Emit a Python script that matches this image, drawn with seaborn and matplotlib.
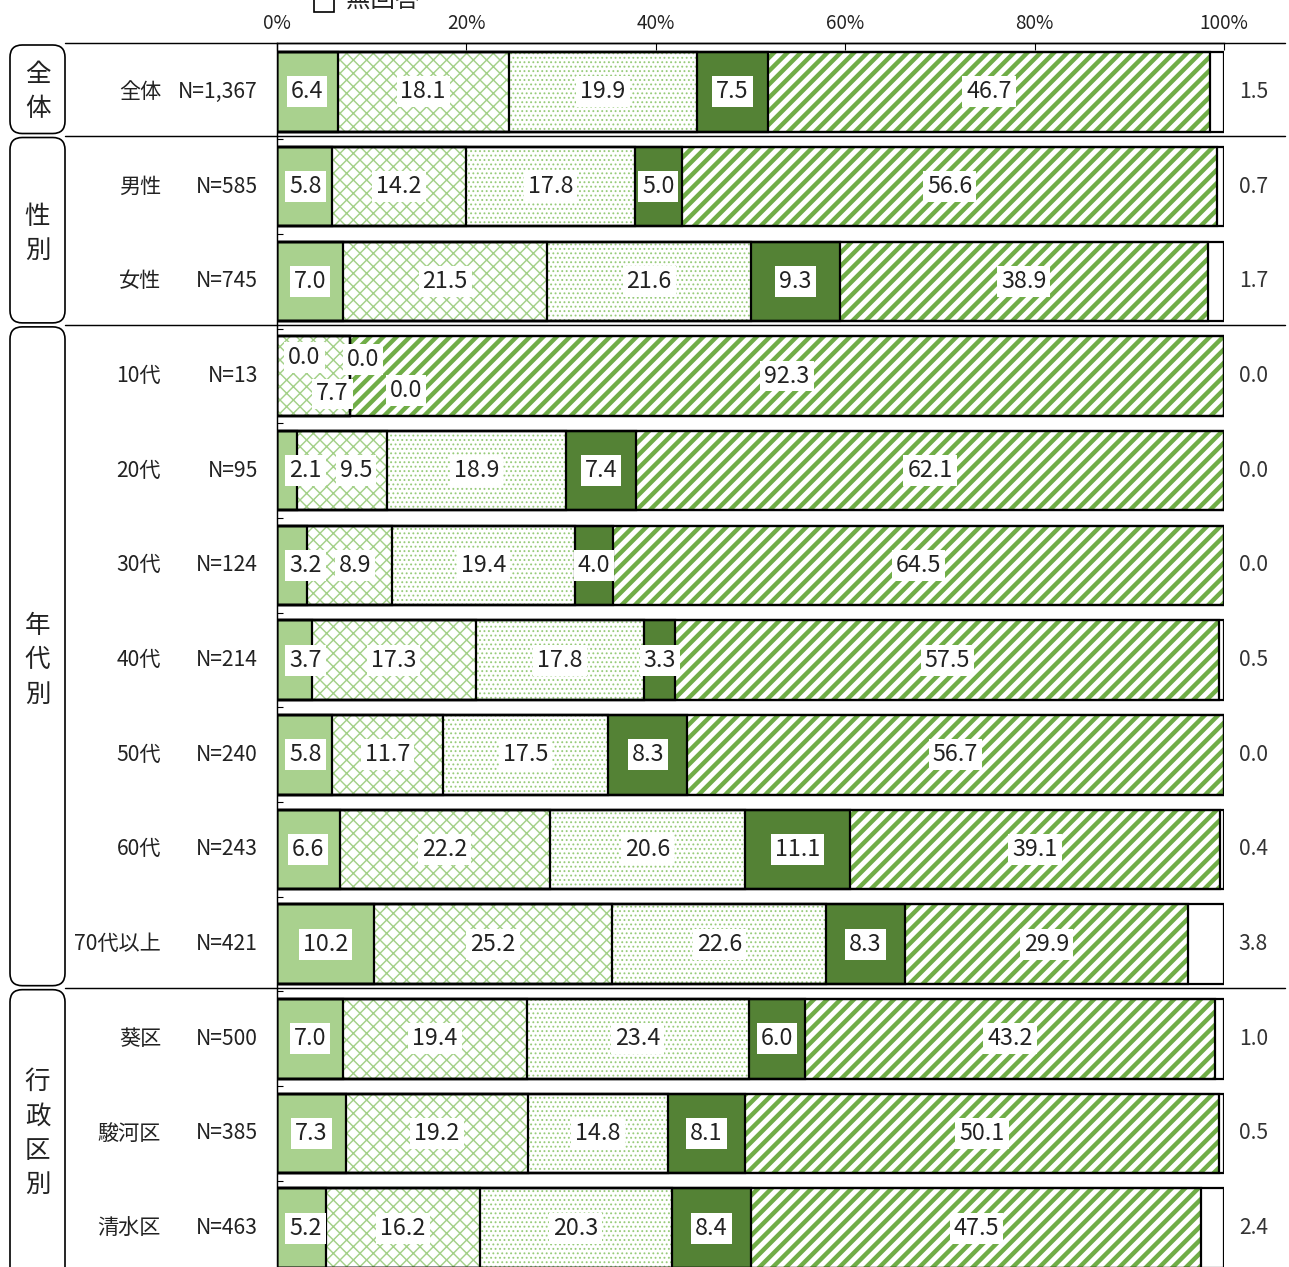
import matplotlib
matplotlib.use("Agg")
import matplotlib.pyplot as plt
import matplotlib.transforms as mtrans
from matplotlib.patches import FancyBboxPatch, Rectangle
import numpy as np
import seaborn as sns

sns.set_theme(style="white")
plt.rcParams['font.family'] = ['Noto Sans CJK JP', 'DejaVu Sans']

W, H, DPI = 1289, 1267, 80

# ---- data ----
categories = ["全体", "男性", "女性", "10代", "20代", "30代", "40代", "50代",
              "60代", "70代以上", "葵区", "駿河区", "清水区"]
sample_n = ["N=1,367", "N=585", "N=745", "N=13", "N=95", "N=124", "N=214",
            "N=240", "N=243", "N=421", "N=500", "N=385", "N=463"]
groups = ["全体", "性別", "年代別", "行政区別"]
group_rows = [(0, 0), (1, 2), (3, 9), (10, 12)]

series_1 = [6.4, 5.8, 7.0, 0.0, 2.1, 3.2, 3.7, 5.8, 6.6, 10.2, 7.0, 7.3, 5.2]
series_2 = [18.1, 14.2, 21.5, 7.7, 9.5, 8.9, 17.3, 11.7, 22.2, 25.2, 19.4, 19.2, 16.2]
series_3 = [19.9, 17.8, 21.6, 0.0, 18.9, 19.4, 17.8, 17.5, 20.6, 22.6, 23.4, 14.8, 20.3]
series_4 = [7.5, 5.0, 9.3, 0.0, 7.4, 4.0, 3.3, 8.3, 11.1, 8.3, 6.0, 8.1, 8.4]
series_5 = [46.7, 56.6, 38.9, 92.3, 62.1, 64.5, 57.5, 56.7, 39.1, 29.9, 43.2, 50.1, 47.5]
no_answer = [1.5, 0.7, 1.7, 0.0, 0.0, 0.0, 0.5, 0.0, 0.4, 3.8, 1.0, 0.5, 2.4]
legend_label = "無回答"

xticks = [0, 20, 40, 60, 80, 100]
xtick_labels = ["0%", "20%", "40%", "60%", "80%", "100%"]

# ---- styles ----
# face colour, hatch, hatch colour, hatch linewidth
styles = [
    ("#A9D18E", None, "#A9D18E", 1.0),
    ("white", "xx", "#A3D088", 1.3),
    ("white", "...", "#98CB7B", 1.0),
    ("#548235", None, "#548235", 1.0),
    ("white", "//", "#70AD47", 4.0),
    ("white", None, "white", 1.0),
]
# label nudges (data units) for crowded labels
label_nudge = {(3, 0): (2.9, -0.20), (3, 1): (2.0, 0.19),
               (3, 2): (1.4, -0.17), (3, 3): (5.9, 0.15),
               (4, 1): (1.5, 0.0), (5, 1): (0.6, 0.0)}

values = np.array([series_1, series_2, series_3, series_4, series_5, no_answer]).T
cum = np.cumsum(values, axis=1)
cum = cum / cum[:, -1:] * 100.0
left = cum - values / values.sum(axis=1, keepdims=True) * 100.0

fig = plt.figure(figsize=(W / DPI, H / DPI), dpi=DPI)
ax_top_px = 43
ax = fig.add_axes([277 / W, 0, (1224 - 277) / W, (H - ax_top_px) / H])

bar_w = 0.84
for k in reversed(range(6)):
    face, hatch, hcol, hlw = styles[k]
    plt.rcParams['hatch.linewidth'] = hlw
    n0 = len(ax.patches)
    sns.barplot(x=cum[:, k], y=categories, orient="y", color=face, hatch=hatch,
                edgecolor=hcol, linewidth=0, width=bar_w, saturation=1,
                errorbar=None, ax=ax)
    for p in ax.patches[n0:]:
        if hasattr(p, "set_hatch_linewidth"):
            p.set_hatch_linewidth(hlw)

for k in range(6):
    sns.barplot(x=cum[:, k], y=categories, orient="y", fill=False, color="black",
                linewidth=2.0, width=bar_w, errorbar=None, ax=ax)

y_top = -0.517
y_bot = 12.41
ax.set_xlim(0, 100)
ax.set_ylim(y_bot, y_top)
ax.set_xlabel("")
ax.set_ylabel("")

for s in ["right", "bottom"]:
    ax.spines[s].set_visible(False)
for s in ["top", "left"]:
    ax.spines[s].set_color("black")
    ax.spines[s].set_linewidth(1.3)

ax.xaxis.tick_top()
ax.set_xticks(xticks)
ax.set_xticklabels(xtick_labels)
ax.tick_params(axis="x", top=True, bottom=False, direction="in", length=6,
               width=1, color="black", labelsize=17, labelcolor="#222222", pad=8)
ax.set_yticks(np.arange(0.5, len(categories) - 0.5, 1))
ax.set_yticklabels([])
ax.tick_params(axis="y", left=True, direction="in", length=5, width=1, color="black")

# ---- value labels ----
lab_font = 21
for i in range(len(categories)):
    for k in range(5):
        mid = (left[i, k] + cum[i, k]) / 2
        if k == 0:
            mid = max(mid, 3.0)
        cx, cy = mid, i
        if (i, k) in label_nudge:
            dx, dy = label_nudge[(i, k)]
            cx, cy = mid + dx, i + dy
            if (i, k) == (3, 0):
                cx = 2.9
        ax.text(cx, cy, f"{values[i, k]:.1f}", ha="center", va="center",
                fontsize=lab_font, color="#222222", zorder=10,
                bbox=dict(facecolor="white", edgecolor="none", pad=3.5))
    ax.text(103.1, i, f"{no_answer[i]:.1f}", ha="center", va="center",
            fontsize=19, color="#333333", clip_on=False)

# ---- left column labels ----
blend = mtrans.blended_transform_factory(fig.transFigure, ax.transData)
for i, (c, n) in enumerate(zip(categories, sample_n)):
    fig.text(161 / W, i, c, transform=blend, ha="right", va="center",
             fontsize=19, color="#222222")
    fig.text(258 / W, i, n, transform=blend, ha="right", va="center",
             fontsize=19, color="#222222")


def row_px(y):
    return ax_top_px + (y - y_top) * (H - ax_top_px) / (y_bot - y_top)


# separators
for g, (r0, r1) in enumerate(group_rows):
    yb = y_top if g == 0 else r0 - 0.5 - 0.04
    ax.plot([65 / W, 1285 / W], [yb, yb], transform=blend, color="black",
            linewidth=1.3, clip_on=False, zorder=12)

# rounded group boxes with vertical titles
for g, (r0, r1) in enumerate(group_rows):
    top = row_px(r0 - 0.5 - 0.04) + 2 if g else ax_top_px + 2
    bot = row_px(r1 + 0.5 - 0.04) - 2 if g < 3 else H + 30
    x0, x1 = 10, 65
    box = FancyBboxPatch((x0 / W, 1 - bot / H), (x1 - x0) / W, (bot - top) / H,
                         boxstyle="round,pad=0,rounding_size=0.0095",
                         mutation_aspect=W / H, transform=fig.transFigure,
                         facecolor="white", edgecolor="black", linewidth=1.5,
                         clip_on=False)
    fig.patches.append(box)
    fig.text(37.5 / W, (r0 + r1) / 2, "\n".join(groups[g]), transform=blend,
             ha="center", va="center", fontsize=23, linespacing=1.42,
             color="#222222")

# legend fragment cut off at the top
fig.patches.append(Rectangle((314 / W, 1 - 12 / H), 20 / W, 22 / H,
                             transform=fig.transFigure, facecolor="white",
                             edgecolor="black", linewidth=1.5))
fig.text(346 / W, 1.0, legend_label, ha="left", va="center",
         fontsize=22, color="#222222")

fig.savefig("out.png", dpi=DPI)
